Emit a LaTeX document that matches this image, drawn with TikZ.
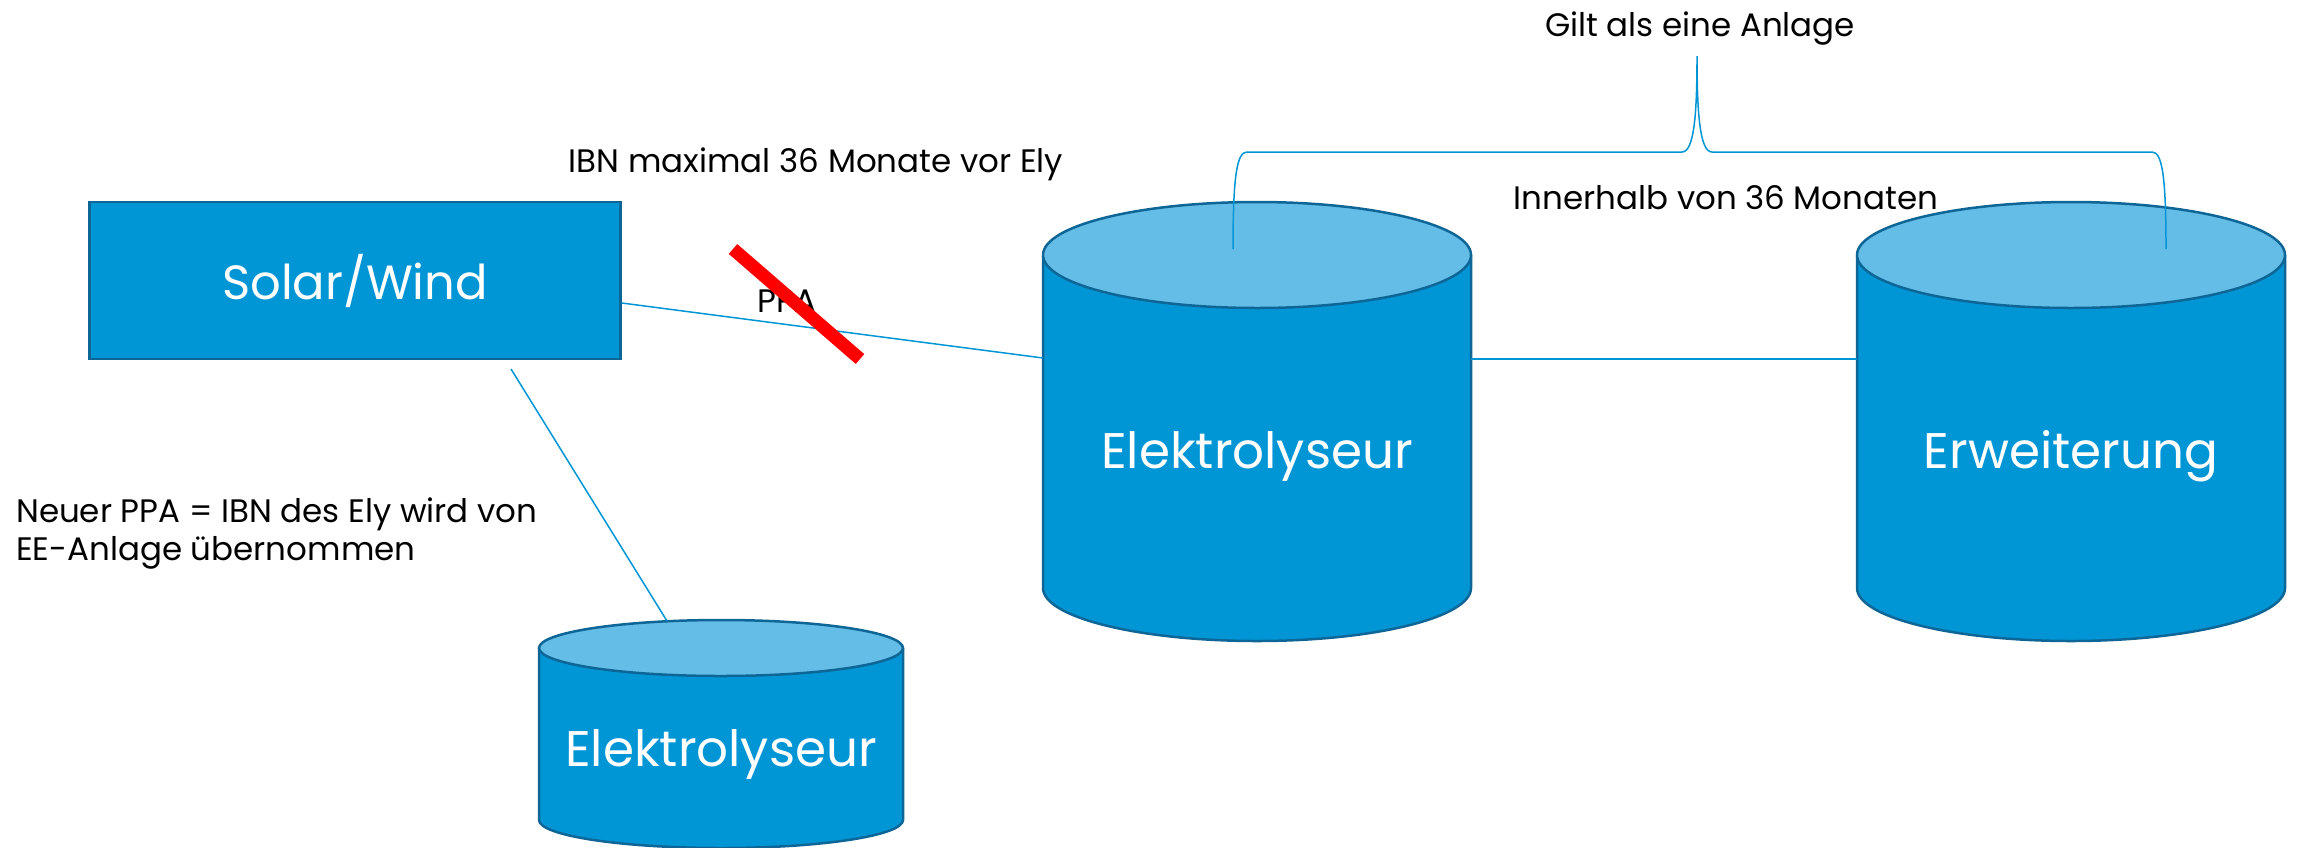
\documentclass[tikz,border=0pt]{standalone}
\usepackage{fontspec}
\setmainfont{Poppins}
\usetikzlibrary{calc}
\definecolor{fillblue}{RGB}{0,150,214}
\definecolor{topblue}{RGB}{99,189,230}
\definecolor{edgeblue}{RGB}{14,102,150}
\definecolor{lineblue}{RGB}{0,150,214}
\definecolor{slashred}{RGB}{255,0,0}
\newcommand\mycyl[6]{% cx, rx, ytop, ybot, ry, unused
  \fill[fillblue] (#1-#2,#3) -- (#1-#2,#4) arc[start angle=180,end angle=0,x radius=#2,y radius=#5] -- (#1+#2,#3) -- cycle;
  \draw[edgeblue,line width=2.5] (#1-#2,#3) -- (#1-#2,#4) arc[start angle=180,end angle=0,x radius=#2,y radius=#5] -- (#1+#2,#3);
  \draw[edgeblue,line width=2.5,fill=topblue] (#1,#3) ellipse[x radius=#2,y radius=#5];
}
\tikzset{
  conn/.style={lineblue,line width=1.5},
  bigtxt/.style={text=white,font=\fontsize{48}{56}\selectfont,inner sep=0pt},
  cyltxt/.style={text=white,font=\fontsize{50}{58}\selectfont,inner sep=0pt},
  smalltxt/.style={text=black,font=\fontsize{32.5}{38}\selectfont,inner sep=0pt},
}
\begin{document}
\begin{tikzpicture}[x=1pt,y=-1pt]
\useasboundingbox (0,0) rectangle (2298,847);
% Solar/Wind box
\node[draw=edgeblue,fill=fillblue,line width=2.5,minimum width=531,minimum height=157,inner sep=0pt,bigtxt] (solar) at (355,280.5) {Solar/Wind};
% cylinders
\mycyl{1257}{214}{255}{588}{53}{}
\mycyl{2071}{214}{255}{588}{53}{}
\mycyl{721}{182}{648}{820}{28}{}
\node[cyltxt] (ely) at (1257,456) {Elektrolyseur};
\node[cyltxt] (erw) at (2071,456) {Erweiterung};
\node[cyltxt] (ely2) at (721,754) {Elektrolyseur};
% connection points
\coordinate (solarR) at ($(solar.east)+(0,22.5)$);
\coordinate (elyL) at (1043,358);
\coordinate (elyR) at (1471,359);
\coordinate (erwL) at (1857,359);
\coordinate (solarB) at (511,369);
\coordinate (ely2T) at (667,621);
\draw[conn] (solarR) -- (elyL);
\draw[conn] (elyR) -- (erwL);
\draw[conn] (solarB) -- (ely2T);
% brace
\coordinate (bL) at (1233,249);
\coordinate (bR) at (2166,249);
\coordinate (bT) at (1697,56);
\draw[conn] (bL) .. controls (1233,175) and (1237,152) .. (1247,152) -- (1682,152)
  .. controls (1694,152) and (1697,115) .. (bT)
  .. controls (1697,115) and (1700,152) .. (1712,152) -- (2152,152)
  .. controls (2162,152) and (2166,175) .. (bR);
% labels
\node[smalltxt] (gilt) at (1700,29) {Gilt als eine Anlage};
\node[smalltxt] (inner) at (1726,198) {Innerhalb von 36 Monaten};
\node[smalltxt] (ibn) at (816,164) {IBN maximal 36 Monate vor Ely};
\node[smalltxt] (ppa) at (787,301) {PPA};
% red slash
\coordinate (slashA) at (733,249);
\coordinate (slashB) at (860,359);
\draw[slashred,line width=13] (slashA) -- (slashB);
\node[smalltxt,anchor=west,align=left] (neuer) at (16,534) {Neuer PPA = IBN des Ely wird von\\EE-Anlage übernommen};
\end{tikzpicture}
\end{document}
